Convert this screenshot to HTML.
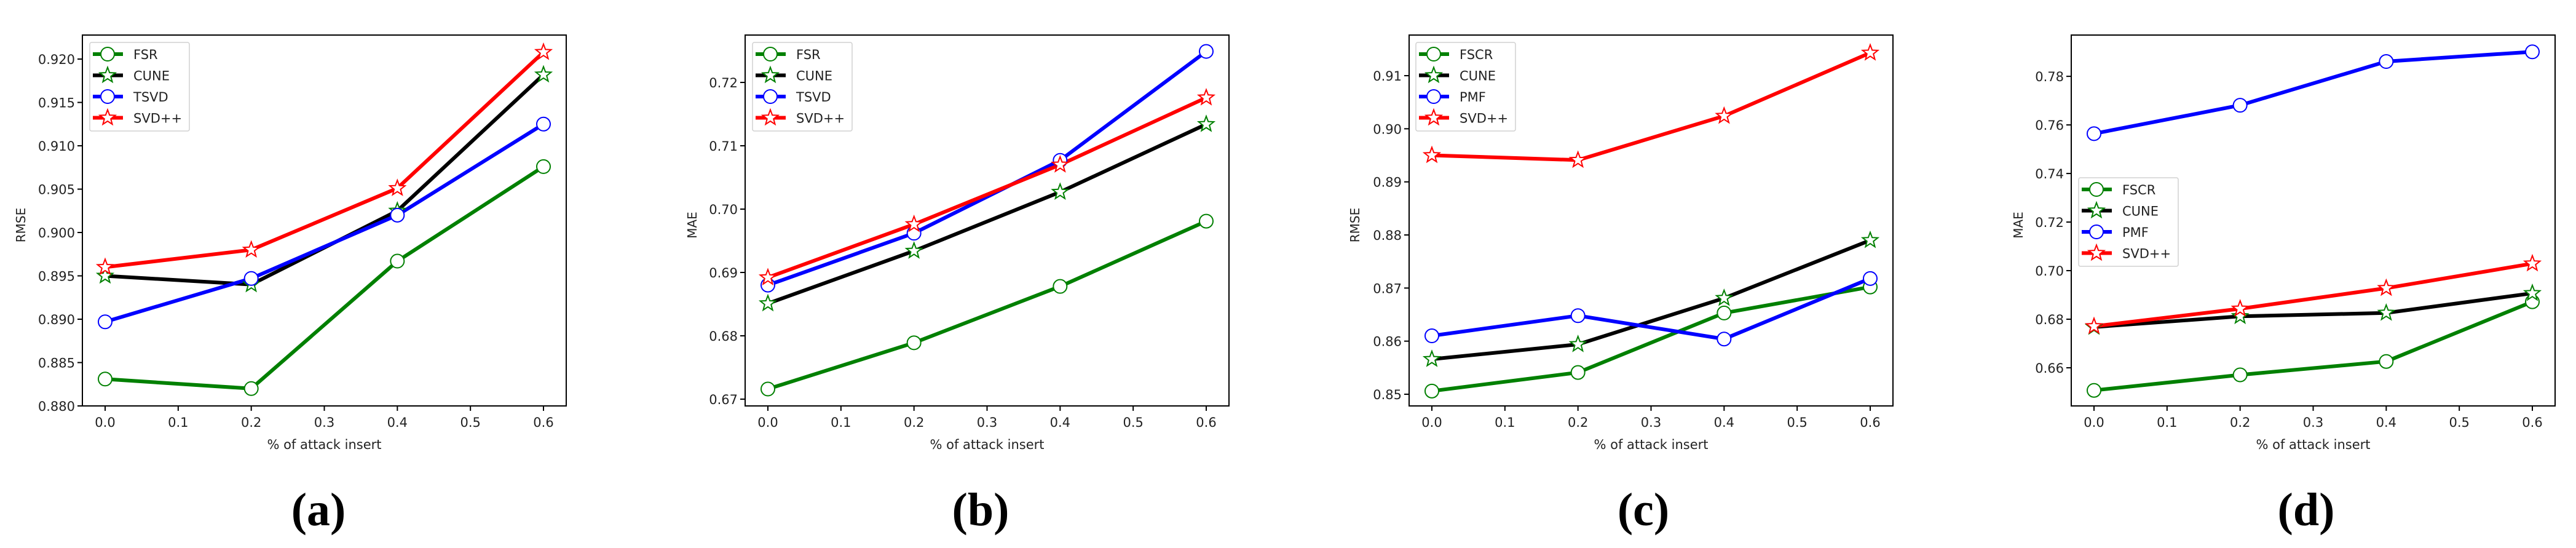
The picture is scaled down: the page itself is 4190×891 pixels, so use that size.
<!DOCTYPE html>
<html><head><meta charset="utf-8">
<style>
html,body{margin:0;padding:0;background:#fff;}
svg{display:block;font-family:"DejaVu Sans","Liberation Sans",sans-serif;}
</style></head>
<body>
<svg id="fig" width="4190" height="891" viewBox="0 0 4190 891" xmlns="http://www.w3.org/2000/svg"></svg>
<script>
const xValues = [0.0, 0.2, 0.4, 0.6];
const xTicks = [0.0, 0.1, 0.2, 0.3, 0.4, 0.5, 0.6];
const xTickLabels = ["0.0","0.1","0.2","0.3","0.4","0.5","0.6"];

const aNames = ["FSR","CUNE","TSVD","SVD++"];
const aFSR = [0.8831, 0.8820, 0.8967, 0.9076];
const aCUNE = [0.8950, 0.8940, 0.9025, 0.9182];
const aTSVD = [0.8897, 0.8947, 0.9020, 0.9125];
const aSVDpp = [0.8960, 0.8980, 0.9051, 0.9208];
const aYTicks = [0.880, 0.885, 0.890, 0.895, 0.900, 0.905, 0.910, 0.915, 0.920];
const aYTickLabels = ["0.880","0.885","0.890","0.895","0.900","0.905","0.910","0.915","0.920"];

const bNames = ["FSR","CUNE","TSVD","SVD++"];
const bFSR = [0.6716, 0.6789, 0.6878, 0.6981];
const bCUNE = [0.6851, 0.6934, 0.7027, 0.7134];
const bTSVD = [0.6880, 0.6962, 0.7077, 0.7249];
const bSVDpp = [0.6892, 0.6976, 0.7070, 0.7176];
const bYTicks = [0.67, 0.68, 0.69, 0.70, 0.71, 0.72];
const bYTickLabels = ["0.67","0.68","0.69","0.70","0.71","0.72"];

const cNames = ["FSCR","CUNE","PMF","SVD++"];
const cFSCR = [0.8506, 0.8541, 0.8653, 0.8702];
const cCUNE = [0.8566, 0.8594, 0.8681, 0.8790];
const cPMF = [0.8610, 0.8648, 0.8604, 0.8718];
const cSVDpp = [0.8950, 0.8941, 0.9024, 0.9143];
const cYTicks = [0.85, 0.86, 0.87, 0.88, 0.89, 0.90, 0.91];
const cYTickLabels = ["0.85","0.86","0.87","0.88","0.89","0.90","0.91"];

const dNames = ["FSCR","CUNE","PMF","SVD++"];
const dFSCR = [0.6507, 0.6571, 0.6626, 0.6872];
const dCUNE = [0.6768, 0.6812, 0.6826, 0.6907];
const dPMF = [0.7564, 0.7681, 0.7861, 0.7901];
const dSVDpp = [0.6771, 0.6843, 0.6928, 0.7029];
const dYTicks = [0.66, 0.68, 0.70, 0.72, 0.74, 0.76, 0.78];
const dYTickLabels = ["0.66","0.68","0.70","0.72","0.74","0.76","0.78"];

const NS = "http://www.w3.org/2000/svg";
const svg = document.getElementById('fig');
function mk(tag, attrs, parent){
  const e = document.createElementNS(NS, tag);
  for (const k in attrs) e.setAttribute(k, attrs[k]);
  (parent||svg).appendChild(e);
  return e;
}
function starPts(cx, cy, R){
  const r = R*0.42; let p = [];
  for (let i=0;i<10;i++){
    const a = -Math.PI/2 + i*Math.PI/5;
    const rr = i%2===0 ? R : r;
    p.push((cx+rr*Math.cos(a)).toFixed(1)+","+(cy+rr*Math.sin(a)).toFixed(1));
  }
  return p.join(" ");
}
function marker(g, kind, cx, cy, edge, name){
  let m;
  if (kind==='o'){
    m = mk('circle',{cx:cx,cy:cy,r:11,fill:'#fff',stroke:edge,'stroke-width':2},g);
  } else {
    m = mk('polygon',{points:starPts(cx,cy,13),fill:'#fff',stroke:edge,'stroke-width':2},g);
  }
  
  
}

const panels = [
  {id:'a', L:134, yl:'RMSE', ymin:0.8800, ymax:0.92277, yt:aYTicks, ytl:aYTickLabels,
   names:aNames, series:[aFSR,aCUNE,aTSVD,aSVDpp], ylabX:34, cap:'(a)', capX:518,
   leg:{x:146,y:69}},
  {id:'b', L:1212, yl:'MAE', ymin:0.66893, ymax:0.72748, yt:bYTicks, ytl:bYTickLabels,
   names:bNames, series:[bFSR,bCUNE,bTSVD,bSVDpp], ylabX:1126, cap:'(b)', capX:1595,
   leg:{x:1224,y:69}},
  {id:'c', L:2292, yl:'RMSE', ymin:0.8478, ymax:0.91765, yt:cYTicks, ytl:cYTickLabels,
   names:cNames, series:[cFSCR,cCUNE,cPMF,cSVDpp], ylabX:2204, cap:'(c)', capX:2673,
   leg:{x:2303,y:69}},
  {id:'d', L:3369, yl:'MAE', ymin:0.6443, ymax:0.7970, yt:dYTicks, ytl:dYTickLabels,
   names:dNames, series:[dFSCR,dCUNE,dPMF,dSVDpp], ylabX:3283, cap:'(d)', capX:3751,
   leg:{x:3381,y:289}}
];
const lineColors = ['#008000','#000000','#0000ff','#ff0000'];
const edgeColors = ['#008000','#008000','#0000ff','#ff0000'];
const kinds = ['o','*','o','*'];
const TOP = 57, BOT = 660, W = 787;

panels.forEach(P => {
  const g = mk('g',{});
  
  
  const xs = v => P.L + 37 + v*(W-74)/0.6;
  const ys = v => BOT - (v-P.ymin)/(P.ymax-P.ymin)*(BOT-TOP);

  P.series.forEach((vals, si) => {
    const pts = vals.map((v,i)=> xs(xValues[i]).toFixed(1)+","+ys(v).toFixed(1)).join(" ");
    const pl = mk('polyline',{points:pts,fill:'none',stroke:lineColors[si],'stroke-width':6,'stroke-linejoin':'round'},g);
    
    
  });
  P.series.forEach((vals, si) => {
    vals.forEach((v,i)=>{
      marker(g, kinds[si], xs(xValues[i]), ys(v), edgeColors[si], 'point-'+P.names[si].toLowerCase().replace(/\+/g,'p')+'-'+i);
    });
  });

  const fr = mk('rect',{x:P.L,y:TOP,width:W,height:BOT-TOP,fill:'none',stroke:'#000','stroke-width':2},g);
  
  

  xTicks.forEach((t,i)=>{
    const x = xs(t);
    mk('line',{x1:x,y1:BOT,x2:x,y2:BOT+8,stroke:'#000','stroke-width':2},g);
    const tx = mk('text',{x:x,y:694,'font-size':21,'text-anchor':'middle',fill:'#222'},g);
    tx.textContent = xTickLabels[i];
    
    
  });
  P.yt.forEach((t,i)=>{
    const y = ys(t);
    mk('line',{x1:P.L-8,y1:y,x2:P.L,y2:y,stroke:'#000','stroke-width':2},g);
    const ty = mk('text',{x:P.L-12,y:y+8,'font-size':21,'text-anchor':'end',fill:'#222'},g);
    ty.textContent = P.ytl[i];
    
    
  });
  const xl = mk('text',{x:P.L+W/2,y:730,'font-size':21,'text-anchor':'middle',fill:'#222'},g);
  xl.textContent = '% of attack insert';
  
  
  const yl = mk('text',{x:0,y:0,'font-size':20,'text-anchor':'middle',fill:'#222',transform:`translate(${P.ylabX+7},366) rotate(-90)`},g);
  yl.textContent = P.yl;
  
  

  const lg = mk('g',{},g);
  
  
  const lb = mk('rect',{x:P.leg.x,y:P.leg.y,width:162,height:144,rx:3,fill:'#fff','fill-opacity':0.85,stroke:'#d0d0d0','stroke-width':1.5},lg);
  
  
  P.names.forEach((n,si)=>{
    const y = P.leg.y + 19 + si*34.5;
    const e = mk('g',{},lg);
    
    
    mk('line',{x1:P.leg.x+5,y1:y,x2:P.leg.x+54,y2:y,stroke:lineColors[si],'stroke-width':6},e);
    marker(e, kinds[si], P.leg.x+29, y, edgeColors[si], 'legend-marker');
    const t = mk('text',{x:P.leg.x+71,y:y+8,'font-size':21,fill:'#222'},e);
    t.textContent = n;
    
    
  });

  const c = mk('text',{x:P.capX,y:854,'font-size':76,'text-anchor':'middle','font-weight':'bold',fill:'#000','font-family':'"Liberation Serif",serif'},g);
  c.textContent = P.cap;
  
  
});
</script>
</body></html>
